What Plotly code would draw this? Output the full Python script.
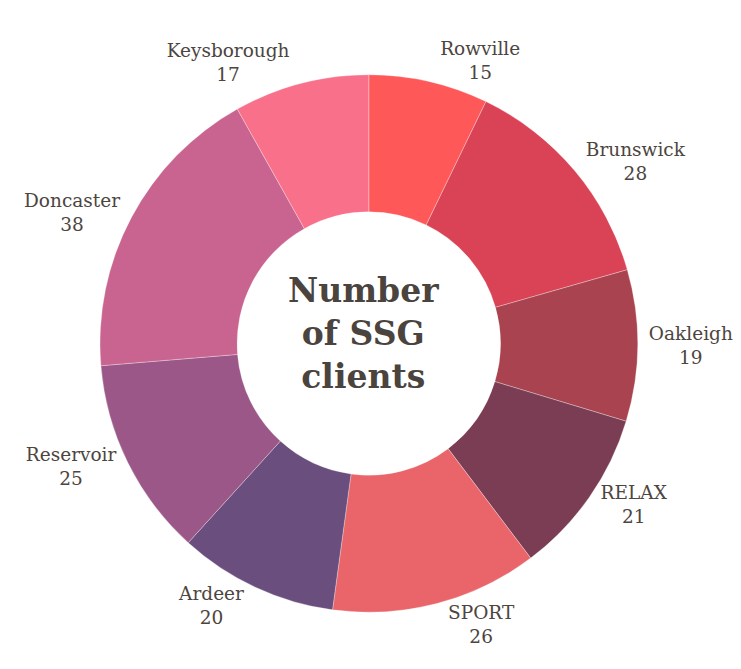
import plotly.graph_objects as go

labels = ["Rowville", "Brunswick", "Oakleigh", "RELAX", "SPORT", "Ardeer", "Reservoir", "Doncaster", "Keysborough"]
values = [15, 28, 19, 21, 26, 20, 25, 38, 17]
colors = ["#fe5858", "#da4356", "#a8434f", "#7a3d54", "#e9656a", "#6a4e7e", "#9a5788", "#c96490", "#f9708a"]

fig = go.Figure(go.Pie(
    labels=labels,
    values=values,
    hole=0.49,
    sort=False,
    direction="clockwise",
    rotation=0,
    domain=dict(x=[0, 0.96], y=[0.015, 1]),
    marker=dict(colors=colors, line=dict(color="rgba(255,255,255,0.5)", width=0.6)),
    texttemplate="%{label}<br>%{value}",
    textposition="outside",
    textfont=dict(family="DejaVu Serif", size=18.5, color="#4d4540"),
    showlegend=False,
    hoverinfo="label+value",
))

fig.update_layout(
    width=741, height=669,
    margin=dict(l=0, r=0, t=0, b=0),
    paper_bgcolor="white",
    plot_bgcolor="white",
    annotations=[dict(
        text="<b>Number<br>of SSG<br>clients</b>",
        x=0.47, y=0.525, xref="paper", yref="paper",
        showarrow=False,
        font=dict(family="DejaVu Serif", size=33, color="#4a433e"),
    )],
)

fig.write_html("out.html")
